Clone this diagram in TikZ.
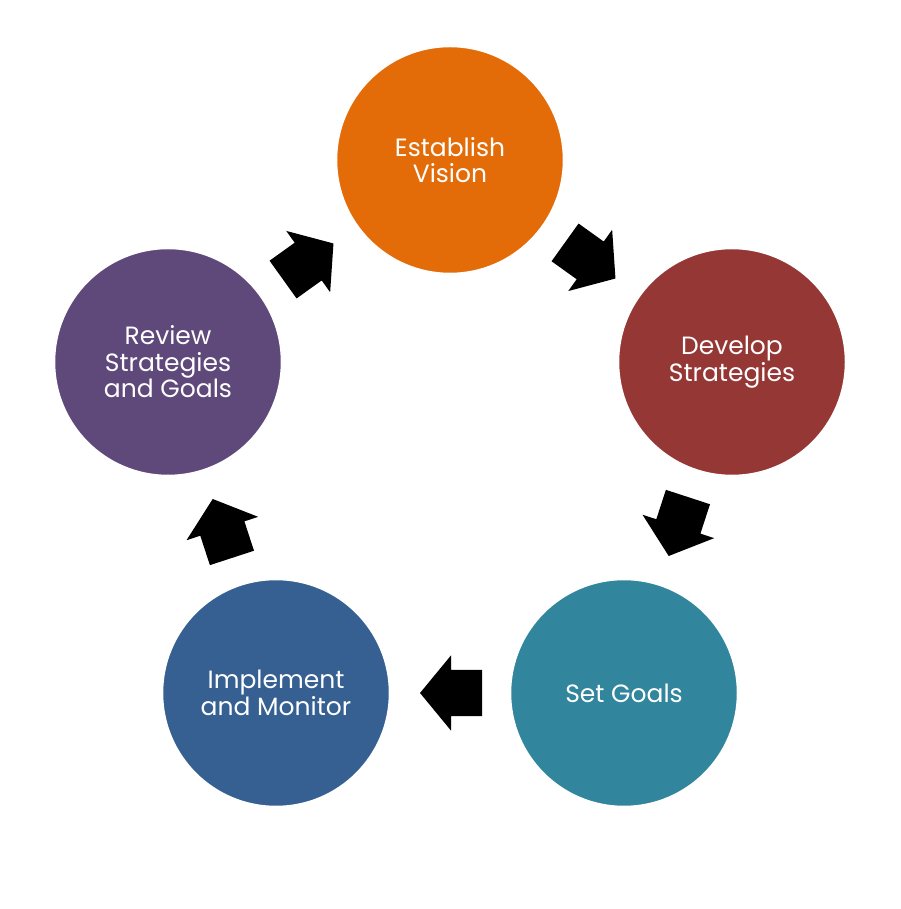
\documentclass[tikz,border=0pt]{standalone}
\usepackage{fontspec}
\setmainfont{Poppins}
\usepackage{tikz}
\usetikzlibrary{shapes.arrows,positioning,calc}
\usepackage{xcolor}
\definecolor{visionorange}{HTML}{E36C09}
\definecolor{stratred}{HTML}{953735}
\definecolor{goalteal}{HTML}{31859C}
\definecolor{monitorblue}{HTML}{366092}
\definecolor{reviewpurple}{HTML}{5F497A}

\begin{document}
\begin{tikzpicture}[x=1pt,y=1pt,
  stage/.style={circle,draw=white,line width=2.5pt,minimum size=228pt,inner sep=0pt,
    text=white,align=center,font=\fontsize{25}{26.5}\selectfont},
  blockarrow/.style={single arrow,fill=black,draw=none,inner xsep=0pt,inner ysep=23pt,
    minimum height=62pt,single arrow head extend=14.5pt,
    single arrow tip angle=101,sloped,allow upside down}]
  \useasboundingbox (0,0) rectangle (900,909);
  % stages
  \node[stage,fill=visionorange] (vision) at (450,749) {Establish\\Vision};
  \node[stage,fill=stratred] (develop) at (732,547) {Develop\\Strategies};
  \node[stage,fill=goalteal] (goals) at (624,216) {Set Goals};
  \node[stage,fill=monitorblue] (monitor) at (276,216) {Implement\\and Monitor};
  \node[stage,fill=reviewpurple] (review) at (168,547) {Review\\Strategies\\and Goals};
  % cycle arrows
  \path (review) -- (vision) node[pos=0.41,blockarrow] (a1) {};
  \path (vision) -- (develop) node[pos=0.41,blockarrow] (a2) {};
  \path (develop) -- (goals) node[pos=0.41,blockarrow] (a3) {};
  \path (goals) -- (monitor) node[pos=0.41,blockarrow] (a4) {};
  \path (monitor) -- (review) node[pos=0.41,blockarrow] (a5) {};
\end{tikzpicture}
\end{document}
